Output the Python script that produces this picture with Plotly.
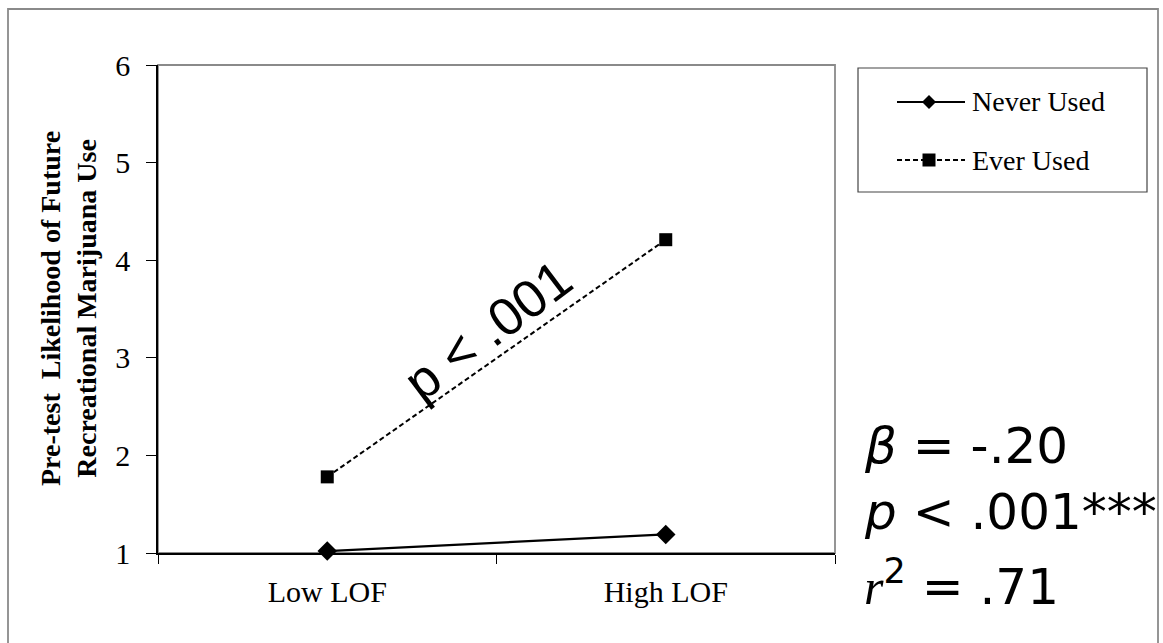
import plotly.graph_objects as go

categories = ["Low LOF", "High LOF"]
never_used = [1.02, 1.19]
ever_used = [1.78, 4.21]
y_ticks = [1, 2, 3, 4, 5, 6]
series_names = ["Never Used", "Ever Used"]

W, H = 1163, 643
L, R, T, B = 158, 835, 65, 553
pw, ph = R - L, B - T


def px(x):
    return (x - L) / pw


def py(y):
    return (B - y) / ph


fig = go.Figure()
fig.add_trace(go.Scatter(
    x=categories, y=never_used, mode="lines+markers", name=series_names[0],
    line=dict(color="black", width=2.2),
    marker=dict(symbol="diamond", size=15, color="black"),
    showlegend=False, cliponaxis=False))
fig.add_trace(go.Scatter(
    x=categories, y=ever_used, mode="lines+markers", name=series_names[1],
    line=dict(color="black", width=2, dash="5px,3px"),
    marker=dict(symbol="square", size=13, color="black"),
    showlegend=False, cliponaxis=False))

serif = "Liberation Serif"
sans = "Liberation Sans"
wide = "DejaVu Sans"
shapes = []
# outer border
shapes.append(dict(type="rect", xref="paper", yref="paper",
                   x0=px(8), x1=px(1158), y0=py(660), y1=py(9),
                   line=dict(color="#8a8a8a", width=1.8), layer="below"))
# plot area border
shapes.append(dict(type="rect", xref="paper", yref="paper",
                   x0=0, x1=1, y0=0, y1=1,
                   line=dict(color="#8a8a8a", width=1.8), layer="below"))
# legend box
shapes.append(dict(type="rect", xref="paper", yref="paper",
                   x0=px(858), x1=px(1147), y0=py(192), y1=py(68),
                   line=dict(color="#444444", width=1.2)))
# legend samples
leg_y = [102, 160]
leg_x0, leg_x1, leg_mx = 897, 965, 929
shapes.append(dict(type="line", xref="paper", yref="paper",
                   x0=px(leg_x0), x1=px(leg_x1), y0=py(leg_y[0]), y1=py(leg_y[0]),
                   line=dict(color="black", width=2.2)))
shapes.append(dict(type="line", xref="paper", yref="paper",
                   x0=px(leg_x0), x1=px(leg_x1), y0=py(leg_y[1]), y1=py(leg_y[1]),
                   line=dict(color="black", width=2, dash="5px,3px")))
shapes.append(dict(type="path", xref="paper", yref="paper",
                   xsizemode="pixel", ysizemode="pixel",
                   xanchor=px(leg_mx), yanchor=py(leg_y[0]),
                   path="M0,7 L7,0 L0,-7 L-7,0 Z",
                   fillcolor="black", line=dict(color="black", width=0)))
shapes.append(dict(type="rect", xref="paper", yref="paper",
                   xsizemode="pixel", ysizemode="pixel",
                   xanchor=px(leg_mx), yanchor=py(leg_y[1]),
                   x0=-6.5, x1=6.5, y0=-6.5, y1=6.5,
                   fillcolor="black", line=dict(color="black", width=0)))

annotations = []
for name, yy in zip(series_names, leg_y):
    annotations.append(dict(xref="paper", yref="paper", x=px(970), y=py(yy),
                            xanchor="left", yanchor="middle", showarrow=False,
                            text=name, font=dict(family=serif, size=28, color="black")))

annotations.append(dict(xref="paper", yref="paper", x=px(68), y=0.5,
                        xanchor="center", yanchor="middle", showarrow=False,
                        textangle=-90,
                        text="<b>Pre-test  Likelihood of Future<br>Recreational Marijuana Use</b>",
                        font=dict(family=serif, size=28, color="black")))

annotations.append(dict(xref="paper", yref="paper", x=px(487), y=py(330),
                        xanchor="center", yanchor="middle", showarrow=False,
                        textangle=-37, text="p < .001",
                        font=dict(family=sans, size=53, color="black")))

stats = ["<i>β</i> = -.20", "<i>p</i> < .001***",
         "<span style='font-family:Liberation Serif'><i>r</i></span><sup>2</sup> = .71"]
stat_y = [446, 512, 583]
for s, yy in zip(stats, stat_y):
    annotations.append(dict(xref="paper", yref="paper", x=px(862), y=py(yy),
                            xanchor="left", yanchor="middle", showarrow=False,
                            text=s, font=dict(family=wide, size=50, color="black")))

fig.update_layout(
    width=W, height=H,
    margin=dict(l=L, r=W - R, t=T, b=H - B),
    paper_bgcolor="white", plot_bgcolor="white",
    showlegend=False,
    shapes=shapes, annotations=annotations,
    xaxis=dict(type="category", range=[-0.5, 1.5], tickson="boundaries",
               showline=True, linecolor="black", linewidth=1.6,
               ticks="outside", ticklen=9, tickcolor="black", tickwidth=1.2,
               showgrid=False, zeroline=False, ticklabelstandoff=11,
               tickfont=dict(family=serif, size=30, color="black")),
    yaxis=dict(range=[1, 6], tickvals=y_ticks,
               showline=True, linecolor="black", linewidth=1.6,
               ticks="outside", ticklen=10, tickcolor="black", tickwidth=1.2,
               showgrid=False, zeroline=False, ticklabelstandoff=10,
               tickfont=dict(family=serif, size=30, color="black")),
)

fig.write_html("out.html")
